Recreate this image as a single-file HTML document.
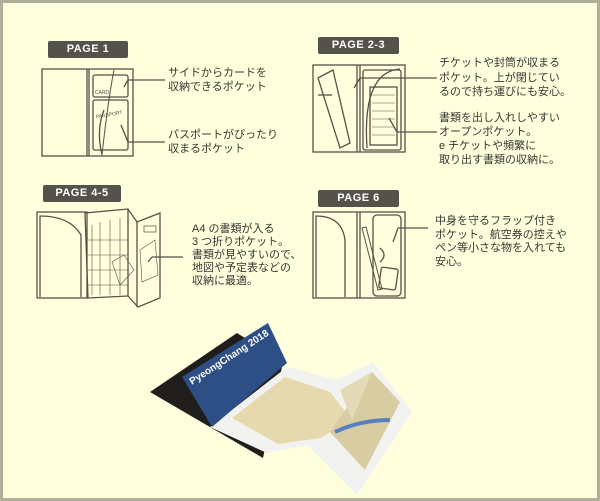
<!DOCTYPE html><html><head><meta charset="utf-8"><style>
body{margin:0;width:600px;height:501px;overflow:hidden;background:#fffedd;font-family:"Liberation Sans","Noto Sans CJK JP",sans-serif}
.wrap{position:absolute;left:0;top:0;width:594px;height:495px;border:3px solid #b0b09a;background:#fffedd}
.lb{position:absolute;background:#55524c;color:#fff;font-weight:bold;font-size:11px;text-align:center;border-radius:2px;letter-spacing:.5px}
.tx{position:absolute;font-size:11px;color:#3a3632;line-height:14px;white-space:nowrap}
svg{position:absolute;left:0;top:0}
</style></head><body><div class="wrap"></div>
<div class="lb" style="left:48px;top:41px;width:80px;height:17px;line-height:17px">PAGE 1</div>
<div class="lb" style="left:318px;top:37px;width:81px;height:17px;line-height:17px">PAGE 2-3</div>
<div class="lb" style="left:43px;top:185px;width:78px;height:17px;line-height:17px">PAGE 4-5</div>
<div class="lb" style="left:318px;top:190px;width:81px;height:17px;line-height:17px">PAGE 6</div>
<div class="tx" style="left:168px;top:66px">サイドからカードを<br>収納できるポケット</div>
<div class="tx" style="left:168px;top:128px">パスポートがぴったり<br>収まるポケット</div>
<div class="tx" style="left:439px;top:56px;line-height:14.5px">チケットや封筒が収まる<br>ポケット。上が閉じてい<br>るので持ち運びにも安心。</div>
<div class="tx" style="left:439px;top:111px;line-height:14px">書類を出し入れしやすい<br>オープンポケット。<br>e チケットや頻繁に<br>取り出す書類の収納に。</div>
<div class="tx" style="left:192px;top:223px;line-height:13px">A4 の書類が入る<br>3 つ折りポケット。<br>書類が見やすいので、<br>地図や予定表などの<br>収納に最適。</div>
<div class="tx" style="left:435px;top:215px;line-height:13.5px">中身を守るフラップ付き<br>ポケット。航空券の控えや<br>ペン等小さな物を入れても<br>安心。</div>
<svg width="600" height="501" fill="none" stroke="#5a5048" stroke-width="1.3">
<defs><clipPath id="cc"><polygon points="182,377 268,323 287,363 212,427"/></clipPath></defs>
<!-- page1 -->
<rect x="42" y="69" width="91" height="87"/><line x1="87" y1="69" x2="87" y2="156"/><line x1="89" y1="69" x2="89" y2="156"/>
<rect x="93" y="75" width="35" height="22" rx="2"/><rect x="93" y="100" width="35" height="50" rx="2"/>
<path d="M114 70 Q108 100 102 155" stroke-width="1"/><path d="M102 155 Q96 130 104 110"/>
<text x="95" y="94" font-size="5" fill="#5a5048" stroke="none" font-family="Liberation Sans">CARD</text>
<text x="96" y="116" font-size="5" fill="#5a5048" stroke="none" font-family="Liberation Sans" transform="rotate(-10 110 116)">PASSPORT</text>
<line x1="165" y1="80" x2="128" y2="80"/><line x1="128" y1="80" x2="124" y2="87"/>
<line x1="165" y1="142" x2="128" y2="142"/><line x1="128" y1="142" x2="121" y2="125"/>
<!-- page2-3 -->
<rect x="313" y="65" width="92" height="87"/><line x1="357" y1="65" x2="357" y2="152"/><line x1="360" y1="65" x2="360" y2="152"/>
<line x1="318" y1="95" x2="332" y2="95"/>
<path d="M333 70 L350 143 L340 148 L318 78 Z"/>
<rect x="363" y="70" width="38" height="80" rx="2"/><path d="M367 148 Q362 72 400 69"/>
<rect x="370" y="87" width="27" height="58"/>
<g stroke-width=".6"><line x1="372" y1="95" x2="395" y2="95"/><line x1="372" y1="103" x2="395" y2="103"/><line x1="372" y1="111" x2="395" y2="111"/><line x1="372" y1="119" x2="395" y2="119"/><line x1="372" y1="127" x2="395" y2="127"/><line x1="372" y1="135" x2="395" y2="135"/></g>
<line x1="437" y1="78" x2="360" y2="78"/><line x1="360" y1="78" x2="354" y2="88"/>
<line x1="437" y1="132" x2="397" y2="132"/><line x1="397" y1="132" x2="389" y2="118"/>
<!-- page4-5 -->
<rect x="37" y="212" width="50" height="86"/><path d="M40 297 L40 216 Q70 216 81 235 L81 297"/>
<path d="M85 213 L128 209 L137 222 L160 213 L160 298 L138 307 L128 296 L88 298 Z"/>
<line x1="128" y1="209" x2="128" y2="296"/><line x1="137" y1="222" x2="137" y2="307"/>
<g stroke-width=".6"><line x1="92" y1="225" x2="92" y2="295"/><line x1="100" y1="222" x2="100" y2="295"/><line x1="110" y1="220" x2="110" y2="295"/><line x1="120" y1="218" x2="120" y2="295"/>
<line x1="88" y1="240" x2="128" y2="240"/><line x1="88" y1="255" x2="128" y2="255"/><line x1="88" y1="270" x2="128" y2="270"/><line x1="88" y1="285" x2="128" y2="285"/>
<path d="M140 250 L155 240 L158 275 L142 282 Z"/><path d="M112 262 L124 255 L134 270 L120 285 Z"/></g>
<rect x="144" y="226" width="12" height="6" stroke-width=".7"/>
<line x1="183" y1="257" x2="152" y2="257"/><line x1="152" y1="257" x2="148" y2="262"/>
<!-- page6 -->
<rect x="313" y="212" width="92" height="86"/><line x1="357" y1="212" x2="357" y2="298"/><line x1="360" y1="212" x2="360" y2="298"/>
<path d="M316 297 L316 216 Q342 216 345 240 L345 297"/>
<rect x="373" y="215" width="28" height="81" rx="4"/>
<path d="M362 228 L378 290 L382 289 L366 227 Z" stroke-width="1"/>
<rect x="380" y="268" width="17" height="21" rx="2" transform="rotate(8 388 278)"/>
<path d="M380 248 Q388 255 380 262"/>
<line x1="428" y1="228" x2="398" y2="228"/><line x1="398" y1="228" x2="393" y2="242"/>
<!-- photo -->
<g stroke="none">
<polygon points="150,392 237,333 283,362 263,458" fill="#1f1e1c"/>
<polygon points="210,427 287,367 337,380 373,362 412,412 357,495 307,445 267,453" fill="#f2f2f0"/>
<polygon points="232,418 285,377 330,392 352,420 320,438 278,444" fill="#e6d9ae"/>
<polygon points="372,372 400,402 365,470 330,432" fill="#d8cca3"/>
<polygon points="340,390 372,372 352,420" fill="#e4dab5"/>
<path d="M335 432 Q360 420 390 420" stroke="#5a7fc0" stroke-width="4" fill="none"/>
<polygon points="182,377 268,323 287,363 212,427" fill="#2d4f86"/>
</g>
<g clip-path="url(#cc)"><text x="192" y="385" font-size="10" font-weight="bold" fill="#fff" stroke="none" font-family="Liberation Sans" transform="rotate(-33 192 385)">PyeongChang 2018</text></g>
</svg>
</body></html>
